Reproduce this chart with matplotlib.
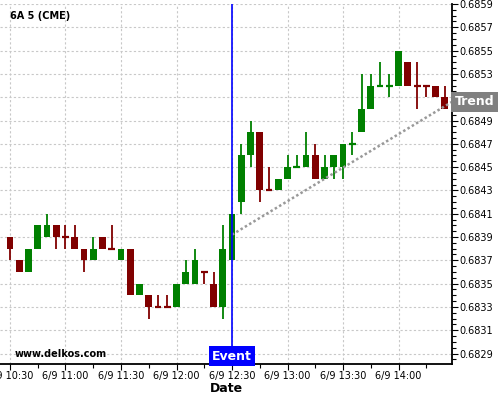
import numpy as np
import pandas as pd
import matplotlib
matplotlib.use("Agg")
import matplotlib.pyplot as plt
import matplotlib.dates as mdates
import matplotlib.transforms as mtransforms
from matplotlib.ticker import FixedLocator, MultipleLocator, FormatStrFormatter

# 5 minute candles, 6A (CME), 9 June
times = pd.date_range("2015-06-09 10:30", periods=48, freq="5min")
opens = [0.6839, 0.6837, 0.6836, 0.6838, 0.6839, 0.6840, 0.6839, 0.6839, 0.6838, 0.6837,
         0.6839, 0.6838, 0.6837, 0.6838, 0.6834, 0.6834, 0.6833, 0.6833, 0.6833, 0.6835,
         0.6835, 0.6836, 0.6835, 0.6833, 0.6837, 0.6842, 0.6846, 0.6848, 0.6843, 0.6843,
         0.6844, 0.6845, 0.6845, 0.6846, 0.6844, 0.6845, 0.6845, 0.6847, 0.6848, 0.6850,
         0.6852, 0.6852, 0.6852, 0.6854, 0.6852, 0.6852, 0.6852, 0.6851]
highs = [0.6839, 0.6837, 0.6838, 0.6840, 0.6841, 0.6840, 0.6840, 0.6840, 0.6838, 0.6839,
         0.6839, 0.6840, 0.6838, 0.6838, 0.6835, 0.6834, 0.6834, 0.6834, 0.6835, 0.6837,
         0.6838, 0.6836, 0.6836, 0.6840, 0.6841, 0.6847, 0.6849, 0.6848, 0.6845, 0.6844,
         0.6846, 0.6846, 0.6848, 0.6847, 0.6846, 0.6846, 0.6847, 0.6848, 0.6853, 0.6853,
         0.6854, 0.6853, 0.6855, 0.6854, 0.6854, 0.6852, 0.6852, 0.6852]
lows = [0.6837, 0.6836, 0.6836, 0.6838, 0.6839, 0.6838, 0.6838, 0.6838, 0.6836, 0.6837,
        0.6838, 0.6838, 0.6837, 0.6834, 0.6834, 0.6832, 0.6833, 0.6833, 0.6833, 0.6835,
        0.6835, 0.6835, 0.6833, 0.6832, 0.6837, 0.6841, 0.6845, 0.6842, 0.6843, 0.6843,
        0.6844, 0.6845, 0.6845, 0.6844, 0.6844, 0.6844, 0.6844, 0.6846, 0.6848, 0.6850,
        0.6852, 0.6851, 0.6852, 0.6852, 0.6850, 0.6851, 0.6851, 0.6850]
closes = [0.6838, 0.6836, 0.6838, 0.6840, 0.6840, 0.6839, 0.6839, 0.6838, 0.6837, 0.6838,
          0.6838, 0.6838, 0.6838, 0.6834, 0.6835, 0.6833, 0.6833, 0.6833, 0.6835, 0.6836,
          0.6837, 0.6836, 0.6833, 0.6838, 0.6841, 0.6846, 0.6848, 0.6843, 0.6843, 0.6844,
          0.6845, 0.6845, 0.6846, 0.6844, 0.6845, 0.6846, 0.6847, 0.6847, 0.6850, 0.6852,
          0.6852, 0.6852, 0.6855, 0.6852, 0.6852, 0.6852, 0.6851, 0.6850]
# 1 = up (green), 0 = down (red), as coloured in the chart
up = [0, 0, 1, 1, 1, 0, 0, 0, 0, 1, 0, 0, 1, 0, 1, 0, 0, 0, 1, 1, 1, 0, 0, 1,
      1, 1, 1, 0, 0, 1, 1, 1, 1, 0, 1, 1, 1, 1, 1, 1, 1, 1, 1, 0, 0, 0, 0, 0]

y_ticks = [0.6829, 0.6831, 0.6833, 0.6835, 0.6837, 0.6839, 0.6841, 0.6843,
           0.6845, 0.6847, 0.6849, 0.6851, 0.6853, 0.6855, 0.6857, 0.6859]

event_time = pd.Timestamp("2015-06-09 12:30")
trend_times = [pd.Timestamp("2015-06-09 12:30"), pd.Timestamp("2015-06-09 14:28:54")]
trend_values = [0.68392, 0.68506]

GREEN = "#008000"
RED = "#800000"

fig = plt.figure(figsize=(5, 4), dpi=100)
ax = fig.add_axes([0.0, 0.09, 0.904, 0.90])

x = mdates.date2num(times)
w = 3.75 / 1440.0
o = np.array(opens); c = np.array(closes); h = np.array(highs); l = np.array(lows)
cols = np.array([GREEN if u else RED for u in up])

ax.vlines(x, l, h, colors=cols, lw=1.3, zorder=3)
body = np.abs(c - o)
is_doji = body < 1e-7
ax.bar(x[~is_doji], body[~is_doji], width=w, bottom=np.minimum(o, c)[~is_doji],
       color=cols[~is_doji], zorder=4, linewidth=0)
ax.hlines(o[is_doji], x[is_doji] - w / 2, x[is_doji] + w / 2,
          colors=cols[is_doji], lw=1.6, zorder=4)

# trend line
ax.plot(mdates.date2num(trend_times), trend_values, color="#999999",
        lw=1.8, linestyle=(0, (1, 1)), zorder=5)

# event line
ex = mdates.date2num(event_time)
ax.axvline(ex, color="#0000ff", lw=1.2, zorder=6)

x0 = mdates.date2num(pd.Timestamp("2015-06-09 10:24:36"))
x1 = mdates.date2num(pd.Timestamp("2015-06-09 14:28:54"))
ax.set_xlim(x0, x1)
ax.set_ylim(0.68281, 0.6859)

# axes styling
for s in ["top", "left"]:
    ax.spines[s].set_visible(False)
ax.spines["right"].set_linewidth(1.3)
ax.spines["bottom"].set_linewidth(1.3)

ax.yaxis.tick_right()
ax.yaxis.set_major_locator(FixedLocator(y_ticks))
ax.yaxis.set_minor_locator(MultipleLocator(0.00005))
ax.yaxis.set_major_formatter(FormatStrFormatter("%.4f"))
ax.xaxis.set_major_locator(mdates.MinuteLocator(byminute=[0, 30]))
ax.xaxis.set_minor_locator(mdates.MinuteLocator(byminute=[15, 45]))
ax.xaxis.set_major_formatter(mdates.DateFormatter("6/9 %H:%M"))
ax.tick_params(axis="both", which="major", labelsize=7, length=4, width=0.8, pad=1)
ax.tick_params(axis="both", which="minor", length=3, width=0.8)
ax.grid(True, which="major", color="#c8c8c8", linestyle=(0, (2, 2)), lw=0.8)
ax.set_axisbelow(True)

ax.set_xlabel("Date", fontsize=9, fontweight="bold", labelpad=1)

ax.text(0.022, 0.968, "6A 5 (CME)", transform=ax.transAxes, fontsize=7,
        fontweight="bold", va="center", ha="left")
ax.text(0.033, 0.028, "www.delkos.com", transform=ax.transAxes, fontsize=7,
        fontweight="bold", va="center", ha="left")

bt = mtransforms.blended_transform_factory(ax.transData, ax.transAxes)
ax.text(ex, 0.004, "Event", transform=bt, fontsize=9, fontweight="bold",
        color="white", ha="center", va="bottom", zorder=7,
        bbox=dict(boxstyle="square,pad=0.25", fc="#0000ff", ec="none"))

rt = mtransforms.blended_transform_factory(ax.transAxes, ax.transData)
ax.text(1.006, trend_values[-1], "Trend", transform=rt, fontsize=9,
        fontweight="bold", color="white", ha="left", va="center", clip_on=False,
        zorder=10,
        bbox=dict(boxstyle="square,pad=0.3", fc="#808080", ec="none"))

fig.savefig("out.png", dpi=100)
